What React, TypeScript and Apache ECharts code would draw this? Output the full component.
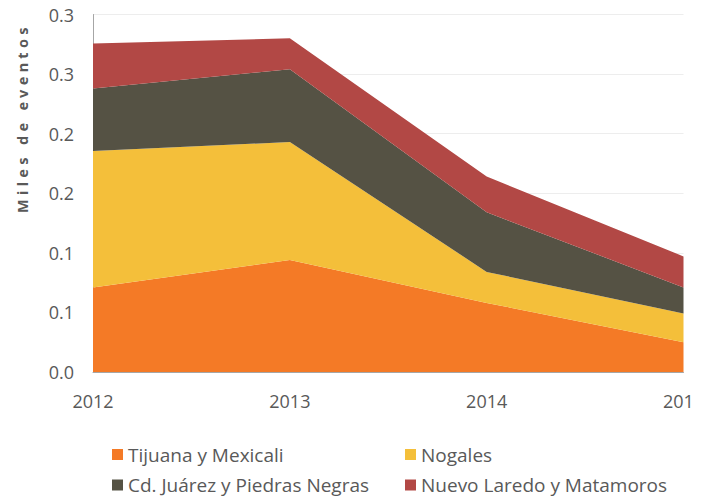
import React, { useEffect, useRef } from "react";
import * as echarts from "echarts";

const years = ["2012", "2013", "2014", "2015"];
const tijuana = [0.071, 0.094, 0.058, 0.025];
const nogales = [0.1145, 0.099, 0.026, 0.024];
const juarez = [0.0525, 0.061, 0.05, 0.022];
const nuevo = [0.0377, 0.026, 0.03, 0.026];
const yTickLabels = ["0.0", "0.1", "0.1", "0.2", "0.2", "0.3", "0.3"];
const seriesNames = [
  "Tijuana y Mexicali",
  "Nogales",
  "Cd. Juárez y Piedras Negras",
  "Nuevo Laredo y Matamoros",
];
const colors = ["#F47A26", "#F4BF3A", "#555244", "#B24845"];
const yTitle = "Miles de eventos";

export default function App() {
  const ref = useRef<HTMLDivElement>(null);
  useEffect(() => {
    if (!ref.current) return;
    const chart = echarts.init(ref.current, undefined, { renderer: "svg" });
    const values = [tijuana, nogales, juarez, nuevo];
    const font = "'Open Sans'";
    const legendText = { color: "#595959", fontSize: 19, fontFamily: font, lineHeight: 19 };
    chart.setOption({
      animation: false,
      color: colors,
      grid: {
        left: 85,
        top: 6.5,
        right: 10.5,
        bottom: 124,
        containLabel: false,
        outerBoundsMode: "none",
      },
      xAxis: {
        type: "category",
        data: years,
        boundaryGap: false,
        axisLine: { lineStyle: { color: "#A6A6A6", width: 1 } },
        axisTick: { show: false },
        axisLabel: { color: "#595959", fontSize: 18, fontFamily: font, margin: 20 },
        splitLine: { show: false },
      },
      yAxis: {
        type: "value",
        min: 0,
        max: 0.3,
        interval: 0.05,
        axisLine: { show: true, lineStyle: { color: "#A6A6A6", width: 1 } },
        axisTick: { show: false },
        axisLabel: {
          color: "#595959",
          fontSize: 18,
          fontFamily: font,
          margin: 19,
          padding: [5, 0, 0, 0],
          formatter: (v: number) => yTickLabels[Math.round(v / 0.05)] ?? "",
        },
        splitLine: { show: true, lineStyle: { color: "#EDEDED", width: 1 } },
      },
      legend: [
        {
          orient: "vertical",
          left: 104,
          top: 437,
          padding: 0,
          itemWidth: 11,
          itemHeight: 11,
          itemGap: 11.5,
          icon: "rect",
          data: [seriesNames[0], seriesNames[2]],
          textStyle: legendText,
        },
        {
          orient: "vertical",
          left: 397,
          top: 437,
          padding: 0,
          itemWidth: 11,
          itemHeight: 11,
          itemGap: 11.5,
          icon: "rect",
          data: [seriesNames[1], seriesNames[3]],
          textStyle: legendText,
        },
      ],
      graphic: [
        {
          type: "text",
          x: 14,
          y: 110,
          rotation: Math.PI / 2,
          style: {
            text: yTitle,
            fill: "#595959",
            font: "bold 14.5px 'Noto Sans'",
            textAlign: "center",
            textVerticalAlign: "middle",
          },
        },
      ],
      series: seriesNames.map((name, i) => ({
        name,
        type: "line",
        stack: "total",
        data: values[i],
        showSymbol: false,
        symbol: "none",
        lineStyle: { width: 0 },
        areaStyle: { color: colors[i], opacity: 1 },
        itemStyle: { color: colors[i] },
      })),
    });
    return () => chart.dispose();
  }, []);
  return (
    <>
      <style>{`.chart-box text[style*="Noto Sans"], .chart-box text[font-family*="Noto Sans"] { letter-spacing: 4.3px; }`}</style>
      <div className="chart-box" ref={ref} style={{ width: 686, height: 488 }} />
    </>
  );
}
